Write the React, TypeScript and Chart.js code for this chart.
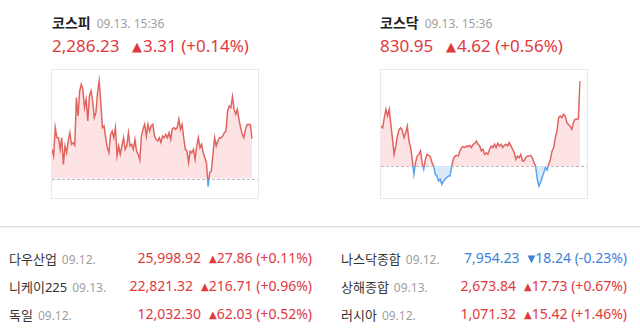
import React, { useEffect, useRef } from "react";
import { Chart, registerables } from "chart.js";

Chart.register(...registerables);

// ---------- data ----------
const indexNames = ["코스피", "코스닥"];
const indexTimes = ["09.13. 15:36", "09.13. 15:36"];
const indexCloses = ["2,286.23", "830.95"];
const indexChanges = [3.31, 4.62];
const indexPcts = [0.14, 0.56];

const kospiPrev = 2282.92;
const kospiValues = [
  2285.35, 2284.8, 2287.16, 2286.32, 2286.32, 2285.35, 2286.32, 2284.1, 2285.63, 2285.07,
  2286.05, 2286.74, 2285.77, 2285.91, 2285.68, 2289.66, 2288.13, 2290.21, 2290.77, 2290.35,
  2288.82, 2289.52, 2287.71, 2289.8, 2290.21, 2289.38, 2287.99, 2288.41, 2290.07, 2291.05,
  2289.24, 2287.16, 2287.3, 2286.32, 2285.49, 2285.07, 2286.6, 2286.88, 2286.32, 2287.16,
  2284.8, 2285.63, 2284.93, 2285.63, 2286.32, 2285.35, 2285.63, 2286.74, 2285.63, 2285.77,
  2285.35, 2286.18, 2285.21, 2284.93, 2284.46, 2286.46, 2287.02, 2287.43, 2286.46, 2287.43,
  2286.88, 2287.3, 2287.43, 2286.46,
  2286.18, 2286.05, 2286.32, 2285.91, 2286.46, 2286.32, 2286.6, 2286.32, 2286.74, 2286.18,
  2287.07, 2287.16, 2287.02, 2287.16, 2287.85, 2287.02, 2287.43, 2286.32, 2285.35, 2285.21,
  2284.24, 2285.21, 2285.07, 2285.35, 2284.52, 2285.63, 2286.32, 2285.49, 2285.77, 2285.07,
  2284.66, 2284.24, 2282.24, 2283.41, 2283.55, 2284.93, 2286.32, 2285.63, 2286.05, 2286.32,
  2286.32, 2286.46, 2286.74, 2286.88, 2288.55, 2288.96, 2288.82, 2289.74, 2288.68, 2288.27,
  2288.68, 2287.85, 2287.16, 2286.6, 2286.32, 2287.02, 2287.43, 2287.43, 2287.43, 2286.23,
];
const kospiAxis = [2281.3, 2291.96];

const kosdaqPrev = 826.33;
const kosdaqValues = [
  828.5, 828.41, 828.96, 829.41, 829.05, 829.41, 828.59, 827.78, 826.96, 827.42,
  827.96, 828.32, 828.41, 828.23, 827.87, 828.14, 828.5, 827.69, 827.33, 826.69,
  825.88, 826.51, 826.87, 826.96, 827.15, 826.51, 826.15, 826.69, 826.96, 826.91,
  826.84, 826.51, 826.33, 825.88, 825.79, 825.51, 825.61, 825.33, 825.51, 825.61,
  825.7, 825.79, 825.79, 826.33, 826.69, 826.87, 826.91, 826.87, 827.15, 827.33,
  827.38, 827.33, 827.42, 827.38, 827.45, 827.33, 827.51, 827.56, 827.69, 827.51,
  827.42, 827.15, 827.24,
  826.96, 827.05, 826.96, 827.24, 827.42, 827.33, 827.51, 827.33, 827.56, 827.42,
  827.51, 827.33, 827.45, 827.51, 827.42, 827.6, 827.42, 827.24, 827.05, 826.69,
  826.87, 826.78, 826.96, 826.6, 826.6, 826.78, 826.87, 826.87, 826.91, 826.78,
  826.51, 826.33, 825.61, 825.24, 825.42, 825.7, 825.97, 826.24, 826.11, 826.42,
  826.69, 827.15, 827.33, 827.87, 828.23, 828.96, 829.05, 828.96, 829.14, 829.05,
  828.69, 828.59, 828.5, 828.32, 828.69, 828.87, 828.87, 828.9, 830.95,
];
const kosdaqAxis = [824.59, 831.55];

const worldNames = ["다우산업", "니케이225", "독일", "나스닥종합", "상해종합", "러시아"];
const worldDates = ["09.12.", "09.13.", "09.12.", "09.12.", "09.13.", "09.12."];
const worldValues = ["25,998.92", "22,821.32", "12,032.30", "7,954.23", "2,673.84", "1,071.32"];
const worldChanges = [27.86, 216.71, 62.03, -18.24, 17.73, 15.42];
const worldPcts = [0.11, 0.96, 0.52, -0.23, 0.67, 1.46];

// ---------- styles ----------
const FONT = '"Noto Sans", "Noto Sans CJK KR", sans-serif';
const TRI_FONT = '"DejaVu Sans", sans-serif';
const UP = "#e0393e";
const DOWN = "#3c82d8";
const LINE_UP = "#e06560";
const LINE_DOWN = "#5ca2e8";
const FILL_UP = "rgba(253, 222, 222, 0.85)";
const FILL_DOWN = "rgba(212, 230, 250, 0.85)";

function fmtChange(c: number) {
  return Math.abs(c).toFixed(2);
}
function fmtPct(p: number) {
  return "(" + (p >= 0 ? "+" : "-") + Math.abs(p).toFixed(2) + "%)";
}

function MiniChart(props: {
  values: number[];
  prev: number;
  axis: number[];
  left: number;
  padRight: number;
}) {
  const ref = useRef<HTMLCanvasElement>(null);
  useEffect(() => {
    const canvas = ref.current;
    if (!canvas) return;
    const { values, prev, axis, padRight } = props;
    const baseline = {
      id: "baseline",
      beforeDatasetsDraw(chart: any) {
        const { ctx, scales } = chart;
        const y = Math.round(scales.y.getPixelForValue(prev)) + 0.5;
        ctx.save();
        ctx.strokeStyle = "#bcbcbc";
        ctx.lineWidth = 1;
        ctx.setLineDash([3, 2]);
        ctx.beginPath();
        ctx.moveTo(0, y);
        ctx.lineTo(chart.width, y);
        ctx.stroke();
        ctx.restore();
      },
    };
    const chart = new Chart(canvas, {
      type: "line",
      data: {
        labels: values.map((_, i) => String(i)),
        datasets: [
          {
            data: values,
            borderWidth: 1.5,
            pointRadius: 0,
            tension: 0,
            borderColor: (c: any) => {
              const ch = c.chart;
              const area = ch.chartArea;
              if (!area) return LINE_UP;
              const y = ch.scales.y.getPixelForValue(prev);
              let t = (y - area.top) / (area.bottom - area.top);
              t = Math.max(0, Math.min(1, t));
              const g = ch.ctx.createLinearGradient(0, area.top, 0, area.bottom);
              g.addColorStop(0, LINE_UP);
              g.addColorStop(t, LINE_UP);
              g.addColorStop(t, LINE_DOWN);
              g.addColorStop(1, LINE_DOWN);
              return g;
            },
            fill: { target: { value: prev }, above: FILL_UP, below: FILL_DOWN },
          } as any,
        ],
      },
      options: {
        animation: false,
        responsive: false,
        maintainAspectRatio: false,
        layout: { padding: { left: 0, right: padRight, top: 0, bottom: 0 } },
        plugins: { legend: { display: false }, tooltip: { enabled: false } },
        scales: {
          x: { display: false, offset: false },
          y: { display: false, min: axis[0], max: axis[1] },
        },
      },
      plugins: [baseline],
    });
    return () => chart.destroy();
  }, []);
  return (
    <div
      style={{
        position: "absolute",
        left: props.left,
        top: 69,
        width: 208,
        height: 130,
        boxSizing: "border-box",
        border: "1px solid #e9e9e9",
      }}
    >
      <canvas ref={ref} width={206} height={128} style={{ display: "block", width: 206, height: 128 }} />
    </div>
  );
}

function Header(props: { i: number; left: number; changeLeft: number }) {
  const { i, left, changeLeft } = props;
  const up = indexChanges[i] >= 0;
  const col = up ? UP : DOWN;
  return (
    <>
      <div
        style={{
          position: "absolute",
          left,
          top: 12,
          height: 20,
          lineHeight: "20px",
          whiteSpace: "nowrap",
        }}
      >
        <span style={{ fontSize: 14, fontWeight: 700, color: "#222" }}>{indexNames[i]}</span>
        <span style={{ fontSize: 12, color: "#a0a0a0", marginLeft: 6 }}>{indexTimes[i]}</span>
      </div>
      <div
        style={{
          position: "absolute",
          left,
          top: 34,
          height: 24,
          lineHeight: "24px",
          fontSize: 17,
          color: col,
          whiteSpace: "nowrap",
        }}
      >
        {indexCloses[i]}
      </div>
      <div
        style={{
          position: "absolute",
          left: changeLeft,
          top: 34,
          height: 24,
          lineHeight: "24px",
          fontSize: 17,
          color: col,
          whiteSpace: "nowrap",
        }}
      >
        <span style={{ fontFamily: TRI_FONT, fontSize: 13, marginRight: 1, position: "relative", top: -1 }}>
          {up ? "▲" : "▼"}
        </span>
        {fmtChange(indexChanges[i]) + " " + fmtPct(indexPcts[i])}
      </div>
    </>
  );
}

function WorldRow(props: { i: number; left: number; right: number; top: number }) {
  const { i, left, right, top } = props;
  const up = worldChanges[i] >= 0;
  const col = up ? UP : DOWN;
  return (
    <>
      <div
        style={{
          position: "absolute",
          left,
          top,
          height: 20,
          lineHeight: "20px",
          whiteSpace: "nowrap",
        }}
      >
        <span style={{ fontSize: 13, color: "#333" }}>{worldNames[i]}</span>
        <span style={{ fontSize: 12, color: "#a0a0a0", marginLeft: 5 }}>{worldDates[i]}</span>
      </div>
      <div
        style={{
          position: "absolute",
          left: right - 300,
          width: 300,
          top,
          height: 20,
          lineHeight: "20px",
          textAlign: "right",
          whiteSpace: "nowrap",
          fontSize: 14,
          color: col,
        }}
      >
        <span>{worldValues[i]}</span>
        <span style={{ fontFamily: TRI_FONT, fontSize: 10, marginLeft: 8, position: "relative", top: -1 }}>
          {up ? "▲" : "▼"}
        </span>
        <span>{fmtChange(worldChanges[i]) + " " + fmtPct(worldPcts[i])}</span>
      </div>
    </>
  );
}

export default function App() {
  const rowTops = [248, 276, 304];
  return (
    <div
      style={{
        position: "absolute",
        left: 0,
        top: 0,
        width: 640,
        height: 334,
        background: "#fff",
        fontFamily: FONT,
        overflow: "hidden",
      }}
    >
      <Header i={0} left={52} changeLeft={132} />
      <Header i={1} left={380} changeLeft={446} />
      <MiniChart values={kospiValues} prev={kospiPrev} axis={kospiAxis} left={51} padRight={6} />
      <MiniChart values={kosdaqValues} prev={kosdaqPrev} axis={kosdaqAxis} left={380} padRight={7} />
      <div style={{ position: "absolute", left: 0, top: 226, width: 640, height: 1, background: "#e0e0e0" }} />
      <div style={{ position: "absolute", left: 0, top: 227, width: 640, height: 1, background: "#f0f0f0" }} />
      {[0, 1, 2].map((r) => (
        <WorldRow key={"l" + r} i={r} left={9} right={312} top={rowTops[r]} />
      ))}
      {[0, 1, 2].map((r) => (
        <WorldRow key={"r" + r} i={r + 3} left={341} right={627} top={rowTops[r]} />
      ))}
    </div>
  );
}
